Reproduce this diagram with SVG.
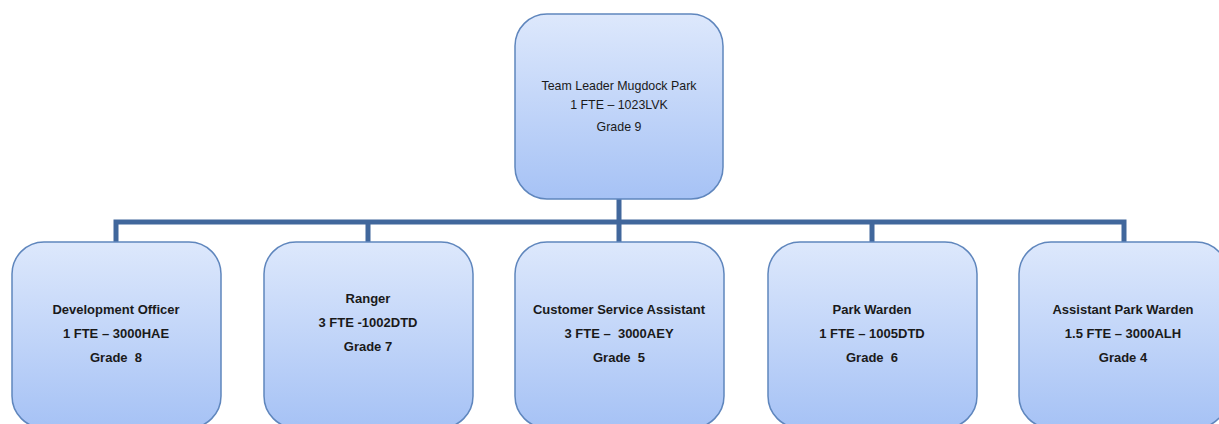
<svg xmlns="http://www.w3.org/2000/svg" width="1219" height="424" viewBox="0 0 1219 424">
<defs>
<linearGradient id="g" x1="0" y1="0" x2="0" y2="1">
<stop offset="0" stop-color="#dde8fc"/>
<stop offset="1" stop-color="#a6c2f5"/>
</linearGradient>
<style>
.box{fill:url(#g);stroke:#5f86bd;stroke-width:1.5}
.t{font-family:"Liberation Sans",Arial,sans-serif;font-size:12.4px;fill:#1a1a1a;text-anchor:middle;white-space:pre}
.b{font-weight:bold;font-size:13px}
.c{fill:none;stroke:#41679c;stroke-width:5}
</style>
</defs>
<rect width="1219" height="424" fill="#ffffff"/>
<g id="connectors">
<path class="c" d="M619,199 V222 M116,242 V222 H1124 V242 M368,222 V242 M619,222 V242 M872,222 V242"/>
</g>
<g id="n-team-leader">
<rect class="box" x="515" y="14" width="208" height="185" rx="32" ry="32"/>
<text class="t" x="619" y="90">Team Leader Mugdock Park</text>
<text class="t" x="619" y="109">1 FTE – 1023LVK</text>
<text class="t" x="619" y="131">Grade 9</text>
</g>
<g id="n-development-officer">
<rect class="box" x="12" y="242" width="209" height="186" rx="32" ry="32"/>
<text class="t b" x="116" y="314">Development Officer</text>
<text class="t b" x="116" y="338">1 FTE – 3000HAE</text>
<text class="t b" x="116" y="362" xml:space="preserve">Grade  8</text>
</g>
<g id="n-ranger">
<rect class="box" x="264" y="242" width="209" height="186" rx="32" ry="32"/>
<text class="t b" x="368" y="303">Ranger</text>
<text class="t b" x="368" y="327">3 FTE -1002DTD</text>
<text class="t b" x="368" y="351">Grade 7</text>
</g>
<g id="n-customer-service">
<rect class="box" x="515" y="242" width="209" height="186" rx="32" ry="32"/>
<text class="t b" x="619" y="314">Customer Service Assistant</text>
<text class="t b" x="619" y="338" xml:space="preserve">3 FTE –  3000AEY</text>
<text class="t b" x="619" y="362" xml:space="preserve">Grade  5</text>
</g>
<g id="n-park-warden">
<rect class="box" x="768" y="242" width="209" height="186" rx="32" ry="32"/>
<text class="t b" x="872" y="314">Park Warden</text>
<text class="t b" x="872" y="338">1 FTE – 1005DTD</text>
<text class="t b" x="872" y="362" xml:space="preserve">Grade  6</text>
</g>
<g id="n-assistant-park-warden">
<rect class="box" x="1019" y="242" width="209" height="186" rx="32" ry="32"/>
<text class="t b" x="1123" y="314">Assistant Park Warden</text>
<text class="t b" x="1123" y="338">1.5 FTE – 3000ALH</text>
<text class="t b" x="1123" y="362">Grade 4</text>
</g>
</svg>
